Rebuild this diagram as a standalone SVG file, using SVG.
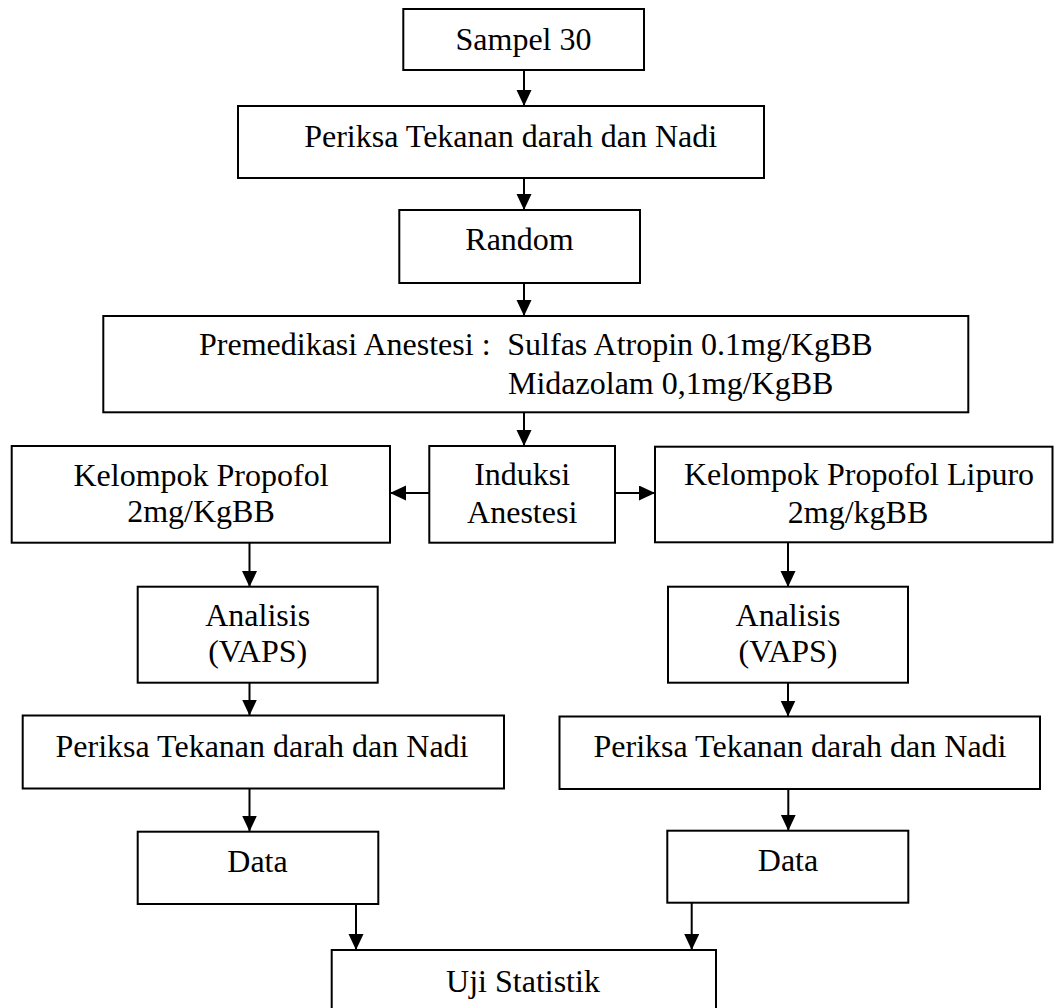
<svg xmlns="http://www.w3.org/2000/svg" width="1054" height="1008" viewBox="0 0 1054 1008">
<style>
  .box { fill: #ffffff; stroke: #000000; stroke-width: 2; }
  .t { font-family: "Liberation Serif", "Times New Roman", serif; font-size: 32px; fill: #000000; }
  .c { text-anchor: middle; }
  .edge { stroke: #000000; stroke-width: 2; fill: none; marker-end: url(#arr); }
</style>
<defs>
  <marker id="arr" markerUnits="userSpaceOnUse" markerWidth="18" markerHeight="16" refX="16" refY="7.5" orient="auto">
    <path d="M0,0 L16,7.5 L0,15 z" fill="#000000"/>
  </marker>
</defs>
<rect width="1054" height="1008" fill="#ffffff"/>

<g id="connectors">
  <line class="edge" x1="524" y1="70" x2="524" y2="106"/>
  <line class="edge" x1="524" y1="178" x2="524" y2="210"/>
  <line class="edge" x1="524" y1="283" x2="524" y2="316"/>
  <line class="edge" x1="524" y1="412" x2="524" y2="446"/>
  <line class="edge" x1="429" y1="493" x2="390" y2="493"/>
  <line class="edge" x1="615" y1="493" x2="655" y2="493"/>
  <line class="edge" x1="249.5" y1="543" x2="249.5" y2="587"/>
  <line class="edge" x1="788" y1="543" x2="788" y2="587"/>
  <line class="edge" x1="249.5" y1="683" x2="249.5" y2="715.5"/>
  <line class="edge" x1="788" y1="683" x2="788" y2="716.5"/>
  <line class="edge" x1="249.5" y1="788.5" x2="249.5" y2="831.5"/>
  <line class="edge" x1="788.3" y1="789" x2="788.3" y2="830.7"/>
  <line class="edge" x1="356" y1="902" x2="356" y2="950"/>
  <line class="edge" x1="691.7" y1="903" x2="691.7" y2="950"/>
</g>

<g id="sampel">
  <rect class="box" x="403.3" y="9" width="240.7" height="61"/>
  <text class="t c" x="523.5" y="50">Sampel 30</text>
</g>
<g id="periksa-top">
  <rect class="box" x="238" y="106" width="526" height="72"/>
  <text class="t c" x="510.7" y="147">Periksa Tekanan darah dan Nadi</text>
</g>
<g id="random">
  <rect class="box" x="399.3" y="210" width="240.7" height="73"/>
  <text class="t c" x="519.5" y="250">Random</text>
</g>
<g id="premedikasi">
  <rect class="box" x="103.3" y="316" width="865" height="96.3"/>
  <text class="t" x="199" y="355">Premedikasi Anestesi :</text>
  <text class="t" x="507.3" y="355">Sulfas Atropin 0.1mg/KgBB</text>
  <text class="t" x="508" y="394">Midazolam 0,1mg/KgBB</text>
</g>
<g id="kelompok-propofol">
  <rect class="box" x="11.7" y="446" width="378.3" height="96.7"/>
  <text class="t c" x="201" y="486">Kelompok Propofol</text>
  <text class="t c" x="201" y="522">2mg/KgBB</text>
</g>
<g id="induksi">
  <rect class="box" x="429.3" y="446" width="185.7" height="96.7"/>
  <text class="t c" x="522.2" y="485">Induksi</text>
  <text class="t c" x="522.2" y="522.7">Anestesi</text>
</g>
<g id="kelompok-lipuro">
  <rect class="box" x="655" y="446.7" width="397.5" height="95.6"/>
  <text class="t c" x="859" y="485">Kelompok Propofol Lipuro</text>
  <text class="t c" x="858" y="522.7">2mg/kgBB</text>
</g>
<g id="analisis-left">
  <rect class="box" x="137.7" y="586.7" width="240" height="96"/>
  <text class="t c" x="257.7" y="626">Analisis</text>
  <text class="t c" x="257.7" y="662">(VAPS)</text>
</g>
<g id="analisis-right">
  <rect class="box" x="668" y="586.7" width="240" height="96"/>
  <text class="t c" x="788" y="626">Analisis</text>
  <text class="t c" x="788" y="662">(VAPS)</text>
</g>
<g id="periksa-left">
  <rect class="box" x="22.7" y="715.5" width="481.3" height="73"/>
  <text class="t c" x="262" y="757">Periksa Tekanan darah dan Nadi</text>
</g>
<g id="periksa-right">
  <rect class="box" x="559.5" y="716.5" width="480.5" height="72.5"/>
  <text class="t c" x="800" y="757">Periksa Tekanan darah dan Nadi</text>
</g>
<g id="data-left">
  <rect class="box" x="137.7" y="831.7" width="240.6" height="72.3"/>
  <text class="t c" x="257.5" y="871.7">Data</text>
</g>
<g id="data-right">
  <rect class="box" x="667.3" y="830.7" width="241" height="72"/>
  <text class="t c" x="788" y="870.7">Data</text>
</g>
<g id="uji">
  <rect class="box" x="331.7" y="950" width="384.3" height="70"/>
  <text class="t c" x="523" y="991.7">Uji Statistik</text>
</g>
</svg>
